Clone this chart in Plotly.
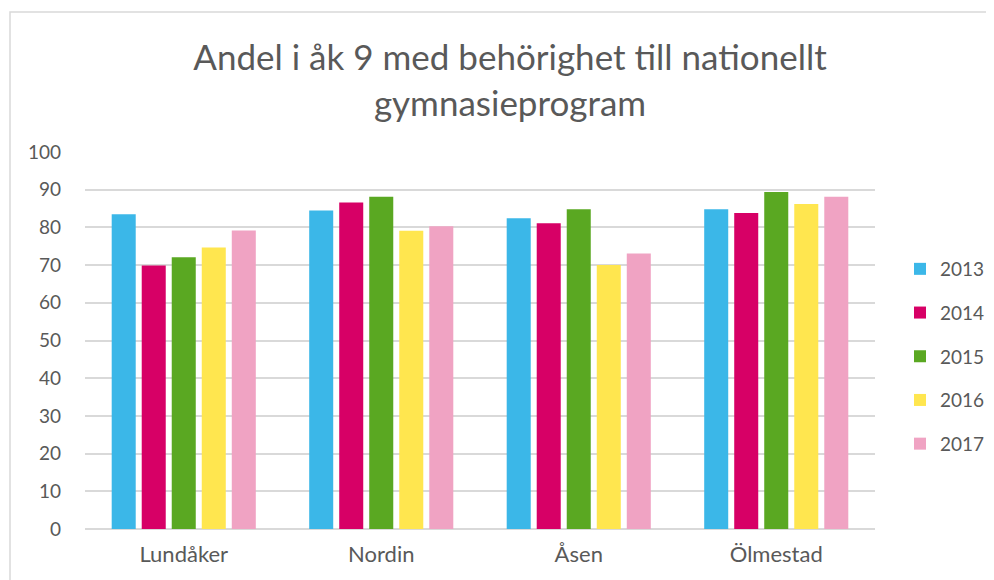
import plotly.graph_objects as go

categories = ["Lundåker", "Nordin", "Åsen", "Ölmestad"]
years = ["2013", "2014", "2015", "2016", "2017"]
v2013 = [83.5, 84.5, 82.4, 84.8]
v2014 = [69.9, 86.6, 81.1, 83.8]
v2015 = [72.1, 88.1, 84.8, 89.4]
v2016 = [74.7, 79.1, 70.0, 86.2]
v2017 = [79.2, 80.3, 73.1, 88.1]
series = [v2013, v2014, v2015, v2016, v2017]
colors = ["#3BB7E8", "#D70066", "#5AA822", "#FFE64F", "#F0A3C3"]
yticks = list(range(0, 101, 10))

FONT = "Lato"
TXT = "#595959"

fig = go.Figure()
for yr, vals, col in zip(years, series, colors):
    fig.add_trace(go.Bar(name=yr, x=categories, y=vals, marker=dict(color=col, line=dict(width=0)),
                         legendgroup=yr))

# page body has an 8px margin, so the figure is drawn 8px in from the top-left
W, H = 986, 572
L, R, T, B = 77, 119, 144, 51
pw, ph = W - L - R, H - T - B

def px_x(x):
    return (x - L) / pw

def px_y(y):
    return (H - B - y) / ph

fig.update_layout(
    width=W, height=H,
    margin=dict(l=L, r=R, t=T, b=B, autoexpand=False),
    paper_bgcolor="white", plot_bgcolor="white",
    font=dict(family=FONT, color=TXT, size=18),
    barmode="group", bargap=0.24, bargroupgap=0.2,
    title=dict(text="Andel i åk 9 med behörighet till nationellt<br>gymnasieprogram",
               font=dict(size=35, color=TXT, family=FONT),
               x=px_x(502), xref="paper", xanchor="center",
               y=1 - 62 / H, yref="container", yanchor="middle"),
    xaxis=dict(showgrid=False, showline=False, ticks="", tickfont=dict(size=22, color=TXT),
               ticklabelstandoff=10),
    yaxis=dict(range=[0, 100], tickvals=yticks, showgrid=True, gridcolor="#D9D9D9", gridwidth=1.5,
               zeroline=True, zerolinecolor="#D9D9D9", zerolinewidth=1.5, ticks="",
               tickfont=dict(size=19, color=TXT), ticklabelstandoff=23),
    legend=dict(x=px_x(892), xanchor="left", y=px_y(242), yanchor="top",
                font=dict(size=19, color=TXT), tracegroupgap=16, itemwidth=30,
                bgcolor="rgba(0,0,0,0)"),
    showlegend=True,
    shapes=[dict(type="rect", xref="paper", yref="paper",
                 x0=px_x(2), x1=px_x(1100), y0=px_y(700), y1=px_y(4),
                 line=dict(color="#D9D9D9", width=1.5), layer="below")],
)

fig.write_html("out.html")
